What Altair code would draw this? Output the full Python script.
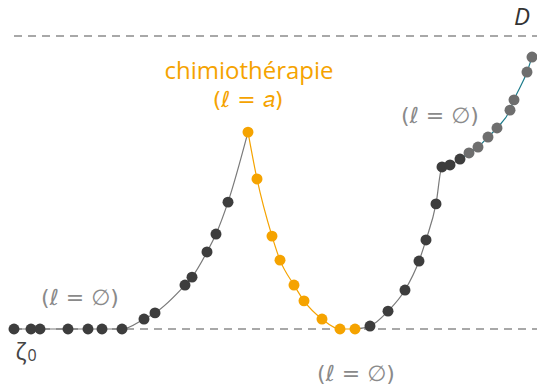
import altair as alt
import pandas as pd

# Trajectory of the tumour burden over time (D = lethal threshold = 100)
times = [14, 31, 40, 68, 88, 102, 122, 144, 155, 185, 192, 207, 216, 228,
         248, 257, 272, 280, 294, 304, 322, 340, 355,
         370, 388, 405, 419, 426, 436, 442, 450, 460,
         469, 478, 488, 497, 510, 514, 527, 532]
values = [0, 0, 0, 0, 0, 0, 0, 3.4, 5.5, 15.0, 17.7, 26.3, 32.4, 43.3,
          67.2, 51.2, 31.7, 23.5, 15.0, 9.6, 3.4, 0, 0,
          1.0, 6.1, 13.3, 23.2, 30.4, 42.7, 55.3, 56.0, 58.0,
          60.1, 62.1, 65.5, 68.6, 74.7, 78.2, 87.7, 92.8]
phases = (["croissance"] * 14 + ["chimio"] * 9 + ["croissance"] * 9
          + ["rechute"] * 8)

# Line pieces: (first index, last index, name)
segments = [(0, 14, "libre"), (14, 22, "chimio"), (22, 31, "libre"),
            (31, 39, "rechute")]

D_LEVEL = 100
ZETA0 = 0

ORANGE = "#f5a300"
DARK = "#3d3d3d"
GREY = "#6e6e6e"
TEXT_GREY = "#8a8a8a"
TEAL = "#1b7a8a"

point_colours = {"croissance": DARK, "chimio": ORANGE, "rechute": GREY}
line_colours = {"libre": "#7a7a7a", "chimio": ORANGE, "rechute": TEAL}

points = pd.DataFrame({"t": times, "v": values, "phase": phases})
points["col"] = points["phase"].map(point_colours)

line_rows = []
for k, (a, b, name) in enumerate(segments):
    for i in range(a, b + 1):
        line_rows.append({"t": times[i], "v": values[i], "seg": f"{k}-{name}",
                          "col": line_colours[name]})
lines = pd.DataFrame(line_rows)

xs = alt.Scale(domain=[0, 537], range=[0, 537])
ys = alt.Scale(domain=[0, 100], range=[329, 36])
X = alt.X("t:Q", scale=xs, axis=None)
Y = alt.Y("v:Q", scale=ys, axis=None)

refs = pd.DataFrame({"t": [14, 14], "t2": [537, 537], "v": [ZETA0, D_LEVEL]})
dashed = alt.Chart(refs).mark_rule(
    color="#8c8c8c", strokeWidth=1.6, strokeDash=[8, 6]
).encode(x=X, x2="t2:Q", y=Y)

curve = alt.Chart(lines).mark_line(interpolate="monotone", strokeWidth=1.2).encode(
    x=X, y=Y, detail="seg:N",
    color=alt.Color("col:N", scale=None),
)

dots = alt.Chart(points).mark_circle(size=120, opacity=1).encode(
    x=X, y=Y,
    color=alt.Color("col:N", scale=None),
)

FONT = "Open Sans"
MATH = "DejaVu Sans"

labels = pd.DataFrame({
    "t": [80, 440, 356],
    "v": [10.6, 72.7, -15.4],
    "txt": ["(ℓ = ∅)", "(ℓ = ∅)", "(ℓ = ∅)"],
})
empty_labels = alt.Chart(labels).mark_text(
    font=MATH, fontSize=22, color=TEXT_GREY, baseline="middle", align="center"
).encode(x=X, y=Y, text="txt:N")

chimio_title = alt.Chart(pd.DataFrame({"t": [249], "v": [87.7]})).mark_text(
    text="chimiothérapie", font=FONT, fontSize=24, color=ORANGE,
    baseline="middle", align="center"
).encode(x=X, y=Y)
chimio_sub = alt.Chart(pd.DataFrame({"t": [248], "v": [78.2]})).mark_text(
    text="(ℓ = 𝑎)", font=MATH, fontSize=22, color=ORANGE,
    baseline="middle", align="center"
).encode(x=X, y=Y)

d_label = alt.Chart(pd.DataFrame({"t": [522], "v": [106.1]})).mark_text(
    text="D", font=FONT, fontSize=24, fontStyle="italic", color="#333333",
    baseline="middle", align="center"
).encode(x=X, y=Y)

zeta = alt.Chart(pd.DataFrame({"t": [21], "v": [-8.2]})).mark_text(
    text="ζ", font=FONT, fontSize=23, color="#444444",
    baseline="middle", align="center"
).encode(x=X, y=Y)
zeta_sub = alt.Chart(pd.DataFrame({"t": [32], "v": [-9.2]})).mark_text(
    text="0", font=FONT, fontSize=16, color="#444444",
    baseline="middle", align="center"
).encode(x=X, y=Y)

chart = alt.layer(
    dashed, curve, dots, empty_labels, chimio_title, chimio_sub, d_label,
    zeta, zeta_sub
).properties(
    width=537, height=387, padding=0, autosize=alt.AutoSizeParams(type="none")
).configure_view(stroke=None)

chart.save("out.html", embed_options={"renderer": "svg", "actions": False})
